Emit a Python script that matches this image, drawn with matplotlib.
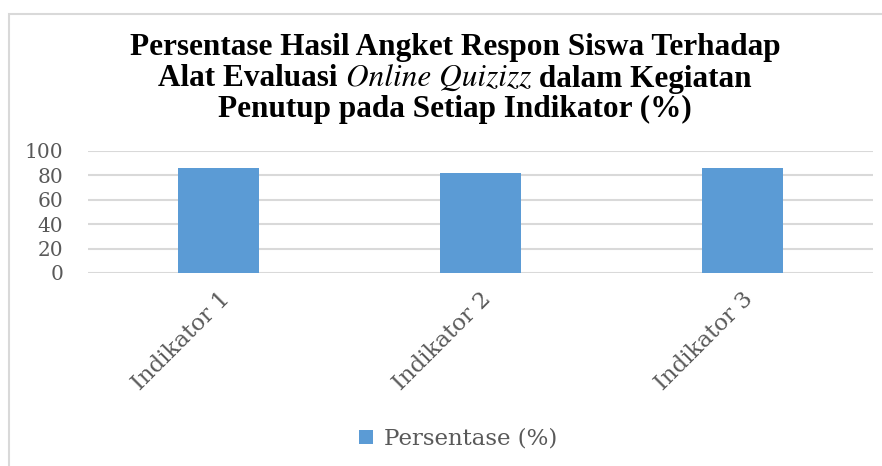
import matplotlib.pyplot as plt
import matplotlib.patches as mpatch
import numpy as np

# data
categories = ['Indikator 1', 'Indikator 2', 'Indikator 3']
persentase = [85.7, 82.0, 85.7]
y_ticks = [0, 20, 40, 60, 80, 100]
series_label = 'Persentase (%)'

plt.rcParams['font.family'] = ['DejaVu Serif']

W, H = 882, 466
fig = plt.figure(figsize=(W / 100, H / 100), dpi=100)
ax = fig.add_axes([88 / W, 1 - 273 / H, (873 - 88) / W, (273 - 151) / H])

bar_color = '#5b9bd5'
text_gray = '#595959'
grid_gray = '#d9d9d9'

x = np.arange(len(categories))
ax.bar(x, persentase, width=0.31, color=bar_color, zorder=3, label=series_label)

ax.set_xlim(-0.5, len(categories) - 0.5)
ax.set_ylim(0, 100)
ax.set_yticks(y_ticks)
ax.set_yticklabels([str(v) for v in y_ticks], fontsize=14.5, color=text_gray)
ax.yaxis.grid(True, color=grid_gray, linewidth=1.5, zorder=0)
ax.set_axisbelow(True)
for s in ax.spines.values():
    s.set_visible(False)
ax.tick_params(axis='both', length=0)
ax.tick_params(axis='y', pad=18)

ax.set_xticks(x)
ax.set_xticklabels(categories, rotation=45, ha='right', va='top',
                   rotation_mode='anchor', fontsize=16.5, color=text_gray)
ax.tick_params(axis='x', pad=11)

# title: three lines, the middle one has an italic part
title_font = dict(size=22.5, color='black')
cx = 455
fig.text(cx / W, 1 - 48 / H, 'Persentase Hasil Angket Respon Siswa Terhadap',
         ha='center', va='center', weight='bold', family='Liberation Serif', **title_font)
fig.text(cx / W, 1 - 109 / H, 'Penutup pada Setiap Indikator (%)',
         ha='center', va='center', weight='bold', family='Liberation Serif', **title_font)

parts = [('Alat Evaluasi ', 'bold', 'normal', 'Liberation Serif'),
         ('Online Quizizz', 'normal', 'italic', 'STIXGeneral'),
         (' dalam Kegiatan', 'bold', 'normal', 'Liberation Serif')]
renderer = fig.canvas.get_renderer()
pieces = []
for txt, wt, st, fam in parts:
    t = fig.text(0, 1 - 79 / H, txt.replace(' ', '\u00a0'), ha='left', va='center',
                 weight=wt, style=st, family=fam, **title_font)
    pieces.append(t)
widths = [p.get_window_extent(renderer).width for p in pieces]
xpos = cx - sum(widths) / 2
for p, w in zip(pieces, widths):
    p.set_x(xpos / W)
    xpos += w

# legend
leg = ax.legend(loc='center', bbox_to_anchor=(458 / W, 1 - 439 / H),
                bbox_transform=fig.transFigure, frameon=False,
                fontsize=16.5, handlelength=0.6, handleheight=0.6,
                handletextpad=0.5, labelcolor=text_gray)

# outer chart border
fig.patches.append(mpatch.Rectangle((9 / W, -0.1), 1.1, 1.1 - 14 / H,
                                    transform=fig.transFigure, fill=False,
                                    edgecolor='#d9d9d9', linewidth=1.5))

plt.savefig('out.png', dpi=100)
